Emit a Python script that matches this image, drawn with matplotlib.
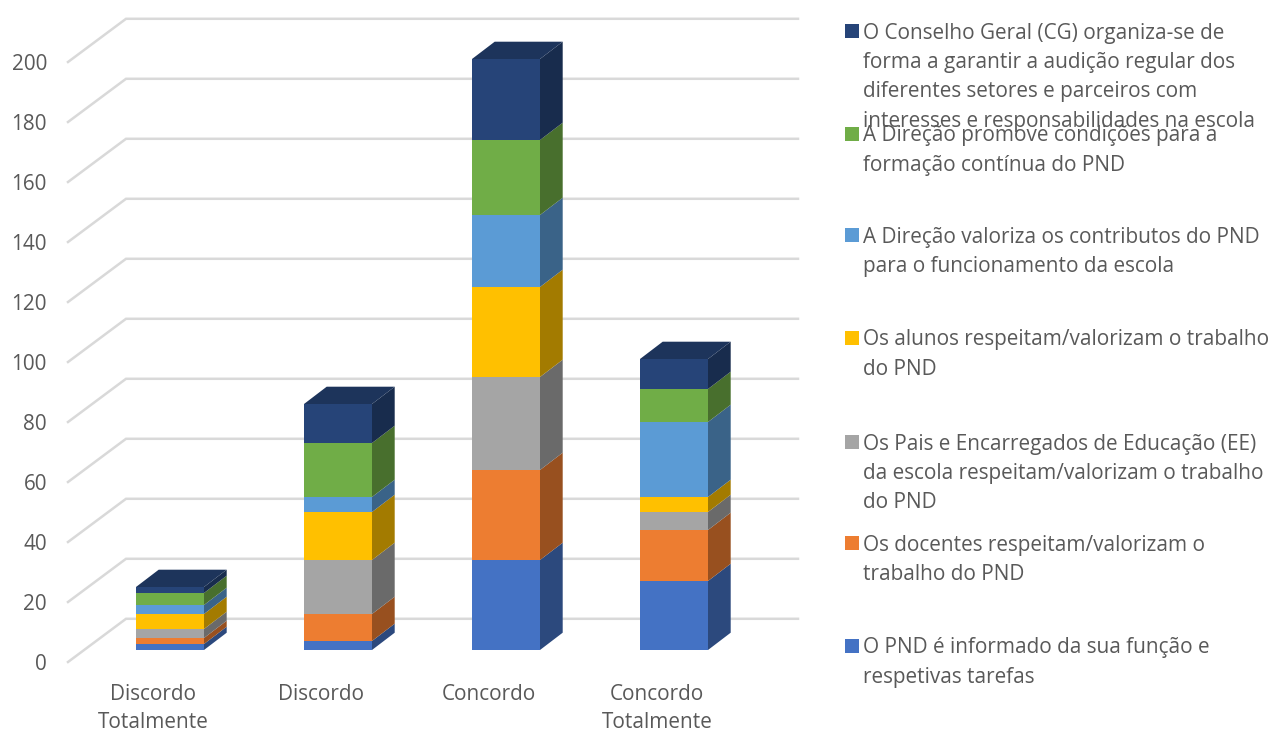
import numpy as np
from matplotlib import pyplot as plt
from matplotlib.colors import to_rgb
from matplotlib.patches import Rectangle

categories = ["Discordo\nTotalmente", "Discordo", "Concordo", "Concordo\nTotalmente"]

pnd_informado = [2, 3, 30, 23]
docentes = [2, 9, 30, 17]
pais_ee = [3, 18, 31, 6]
alunos = [5, 16, 30, 5]
direcao_valoriza = [3, 5, 24, 25]
direcao_formacao = [4, 18, 25, 11]
conselho_geral = [2, 13, 27, 10]

y_ticks = [0, 20, 40, 60, 80, 100, 120, 140, 160, 180, 200]

series = [pnd_informado, docentes, pais_ee, alunos, direcao_valoriza, direcao_formacao, conselho_geral]
colors = ["#4472C4", "#ED7D31", "#A5A5A5", "#FFC000", "#5B9BD5", "#70AD47", "#264478"]

# legenda, de cima para baixo
legend_labels = [
    "O Conselho Geral (CG) organiza-se de\nforma a garantir a audição regular dos\ndiferentes setores e parceiros com\ninteresses e responsabilidades na escola",
    "A Direção promove condições para a\nformação contínua do PND",
    "A Direção valoriza os contributos do PND\npara o funcionamento da escola",
    "Os alunos respeitam/valorizam o trabalho\ndo PND",
    "Os Pais e Encarregados de Educação (EE)\nda escola respeitam/valorizam o trabalho\ndo PND",
    "Os docentes respeitam/valorizam o\ntrabalho do PND",
    "O PND é informado da sua função e\nrespetivas tarefas",
]
legend_colors = colors[::-1]
legend_y = [33, 136, 237, 340, 444, 545, 648]

W, H = 1275, 731
TEXT = "#595959"
GRID = "#D9D9D9"
FONT = "Open Sans"
FS = 14.95

# 168 px entre barras, 3 px por unidade, base das barras em y=650
PX_X = 168.0
PX_Y = 3.0
bar_w = 68 / PX_X
dx = 22.7 / PX_X
dy = 17.3 / PX_Y

fig = plt.figure(figsize=(W / 100, H / 100), dpi=100)
ax = fig.add_axes([0, 0, 1, 1])
ax.set_xlim(-170 / PX_X, (W - 170) / PX_X)
ax.set_ylim((650 - H) / PX_Y, 650 / PX_Y)
ax.axis("off")

# paredes: grelha com o troco obliquo
x_left = (68 - 170) / PX_X
x_wall = (126 - 170) / PX_X
x_right = (798 - 170) / PX_X
for t in y_ticks:
    ax.plot([x_left, x_wall, x_right], [t - 4, t + 10.4, t + 10.4],
            color=GRID, lw=1.8, zorder=1, solid_joinstyle="miter")
    ax.text((47 - 170) / PX_X, t - 4.8, str(t), ha="right", va="center",
            color=TEXT, fontsize=FS, family=FONT)

x = np.arange(len(categories))
bottom = np.zeros(len(categories))
for values, color in zip(series, colors):
    values = np.array(values, dtype=float)
    ax.bar(x, values, bar_w, bottom=bottom, color=color, zorder=3)
    side = tuple(c * 0.64 for c in to_rgb(color))
    for xi, b, v in zip(x, bottom, values):
        xr = xi + bar_w / 2
        ax.fill([xr, xr + dx, xr + dx, xr], [b, b + dy, b + v + dy, b + v],
                color=side, lw=0, zorder=2.5)
    bottom += values

# tampo da ultima serie
top = tuple(c * 0.76 for c in to_rgb(colors[-1]))
for xi, b in zip(x, bottom):
    xl = xi - bar_w / 2
    xr = xi + bar_w / 2
    ax.fill([xl, xr, xr + dx, xl + dx], [b, b, b + dy, b + dy], color=top, lw=0, zorder=2.6)

for xi, label in zip(x, categories):
    for i, line in enumerate(label.split("\n")):
        ax.text(xi - 17 / PX_X, (650 - 695 - i * 28) / PX_Y, line, ha="center", va="center",
                color=TEXT, fontsize=FS, family=FONT)

# legenda manual porque as linhas se sobrepoem no original
for label, color, y0 in zip(legend_labels, legend_colors, legend_y):
    fig.add_artist(Rectangle((845 / W, 1 - (y0 + 5) / H), 13.5 / W, 14 / H,
                             transform=fig.transFigure, color=color, lw=0))
    for i, line in enumerate(label.split("\n")):
        fig.text(863 / W, 1 - (y0 + i * 29.4) / H, line, ha="left", va="center",
                 color=TEXT, fontsize=FS, family=FONT)

plt.savefig("out.png", dpi=100)
